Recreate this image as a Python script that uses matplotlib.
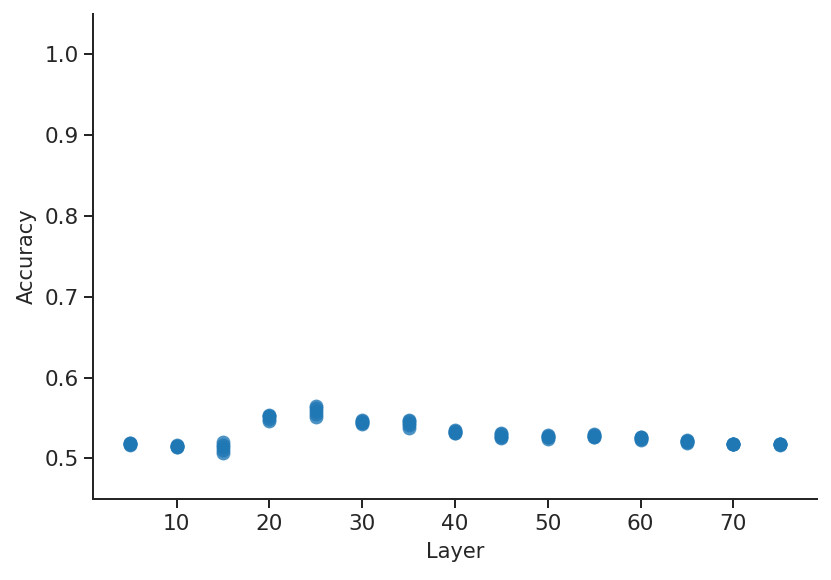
import numpy as np
import matplotlib
matplotlib.use("Agg")
import matplotlib.pyplot as plt
import seaborn as sns

# Accuracy per layer (several runs each)
layers = [5, 10, 15, 20, 25, 30, 35, 40, 45, 50, 55, 60, 65, 70, 75]
acc_runs = [
    [0.517, 0.518, 0.519, 0.518, 0.519],
    [0.514, 0.515, 0.516, 0.515, 0.514],
    [0.507, 0.510, 0.514, 0.517, 0.520],
    [0.546, 0.549, 0.552, 0.554, 0.553],
    [0.551, 0.555, 0.559, 0.562, 0.565],
    [0.543, 0.544, 0.546, 0.547, 0.545],
    [0.537, 0.541, 0.544, 0.547, 0.546],
    [0.531, 0.532, 0.534, 0.535, 0.533],
    [0.525, 0.527, 0.530, 0.532, 0.528],
    [0.524, 0.526, 0.528, 0.529, 0.527],
    [0.526, 0.527, 0.529, 0.530, 0.528],
    [0.523, 0.524, 0.526, 0.527, 0.525],
    [0.519, 0.520, 0.522, 0.523, 0.521],
    [0.518, 0.518, 0.518, 0.518, 0.518],
    [0.517, 0.518, 0.518, 0.518, 0.518],
]

sns.set_theme(style="ticks", context="notebook")
plt.rcParams.update({
    "axes.linewidth": 1.0,
    "xtick.major.size": 4.5, "ytick.major.size": 4.5,
    "xtick.major.width": 1.0, "ytick.major.width": 1.0,
    "xtick.major.pad": 3.0, "ytick.major.pad": 2.6,
    "xtick.labelsize": 10.8, "ytick.labelsize": 10.8,
    "axes.labelsize": 10.5,
})

x = np.repeat(layers, [len(r) for r in acc_runs])
y = np.concatenate(acc_runs)

fig, ax = plt.subplots(figsize=(831 / 144, 580 / 144), dpi=144)
fig.subplots_adjust(left=0.112, right=0.983, top=0.976, bottom=0.14)
ax.scatter(x, y, s=48, color="#1f77b4", alpha=0.8, linewidths=0)
ax.set_xlim(1, 79)
ax.set_ylim(0.45, 1.05)
ax.set_yticks([0.5, 0.6, 0.7, 0.8, 0.9, 1.0])
ax.set_xlabel("Layer")
ax.set_ylabel("Accuracy")
sns.despine(ax=ax)
fig.savefig("out.png", dpi=144)
